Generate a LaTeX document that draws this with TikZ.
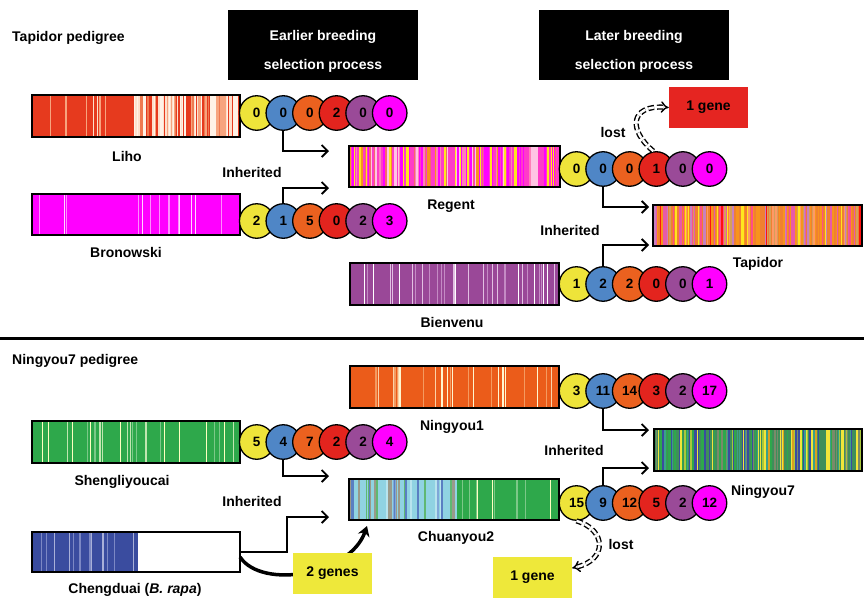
\documentclass[tikz,border=0pt]{standalone}
\usepackage{fontspec}
\setmainfont{Liberation Sans}
\usetikzlibrary{arrows.meta}
% circle colours
\definecolor{cy}{HTML}{EEE43A}
\definecolor{cb}{HTML}{4F86C6}
\definecolor{co}{HTML}{EB611F}
\definecolor{cr}{HTML}{E3241E}
\definecolor{cp}{HTML}{9A4A98}
\definecolor{cm}{HTML}{FF00FF}
\definecolor{gy}{HTML}{EEE83A}
\definecolor{gr}{HTML}{E52521}
% bar colours
\definecolor{lihoBase}{HTML}{E63A1E}
\definecolor{lhA}{HTML}{FDE0CC}\definecolor{lhB}{HTML}{F7A47E}\definecolor{lhC}{HTML}{FFF2E6}\definecolor{lhD}{HTML}{EF7A50}
\definecolor{brA}{HTML}{FF8CFF}\definecolor{brB}{HTML}{FFD6FF}
\definecolor{rgBase}{HTML}{FF3CC8}
\definecolor{rgY}{HTML}{FFE61E}\definecolor{rgO}{HTML}{F7941D}\definecolor{rgP}{HTML}{FF7FB8}\definecolor{rgM}{HTML}{FF00FF}\definecolor{rgS}{HTML}{F46A6A}\definecolor{rgL}{HTML}{FFC4E4}
\definecolor{tpBase}{HTML}{F08030}
\definecolor{tpR}{HTML}{FF1010}\definecolor{tpY}{HTML}{FFE61E}\definecolor{tpO}{HTML}{F7941D}\definecolor{tpK}{HTML}{E85AA8}\definecolor{tpV}{HTML}{C880C0}\definecolor{tpS}{HTML}{FF9966}\definecolor{tpP}{HTML}{FF4D88}\definecolor{tpT}{HTML}{D4A05A}
\definecolor{bvBase}{HTML}{9A4898}
\definecolor{bvA}{HTML}{C48AC4}\definecolor{bvB}{HTML}{E2C0E2}\definecolor{bvC}{HTML}{FFFFFF}
\definecolor{n1Base}{HTML}{EB5C1A}
\definecolor{n1A}{HTML}{F49A60}\definecolor{n1B}{HTML}{FBD2A8}\definecolor{n1C}{HTML}{FFF6D0}
\definecolor{sgBase}{HTML}{2EA84B}
\definecolor{sgA}{HTML}{7CC888}\definecolor{sgB}{HTML}{C0E6B0}\definecolor{sgC}{HTML}{FFFFC0}
\definecolor{cdBase}{HTML}{3A4C9F}
\definecolor{cdA}{HTML}{7C88C4}\definecolor{cdB}{HTML}{A9B0D8}
\definecolor{cuBase}{HTML}{90D3E2}
\definecolor{cuA}{HTML}{5A7FC2}\definecolor{cuB}{HTML}{5FB872}\definecolor{cuC}{HTML}{7FA7D8}\definecolor{cuD}{HTML}{9A9A8A}\definecolor{cuE}{HTML}{B8E4EE}
\definecolor{n7Base}{HTML}{3F8E5A}
\definecolor{n7B}{HTML}{3A4C9F}\definecolor{n7G}{HTML}{2EA84B}\definecolor{n7Y}{HTML}{F2E53A}\definecolor{n7L}{HTML}{A8C83A}\definecolor{n7T}{HTML}{3AA08A}\definecolor{n7O}{HTML}{D9A020}\definecolor{n7Gr}{HTML}{7A8A6A}
\pgfmathdeclarerandomlist{lihoL}{{lhA}{lhB}{lhC}{lhD}{lhA}{lhC}}
\pgfmathdeclarerandomlist{lihoS}{{lhB}{lhA}}
\pgfmathdeclarerandomlist{bronL}{{brA}{brB}}
\pgfmathdeclarerandomlist{regL}{{rgY}{rgO}{rgP}{rgM}{rgS}{rgL}{rgY}{rgM}}
\pgfmathdeclarerandomlist{tapL}{{tpR}{tpY}{tpO}{tpK}{tpV}{tpS}{tpP}{tpT}{tpO}{tpK}}
\pgfmathdeclarerandomlist{bienL}{{bvA}{bvB}{bvC}}
\pgfmathdeclarerandomlist{ny1L}{{n1A}{n1B}{n1C}}
\pgfmathdeclarerandomlist{shgL}{{sgA}{sgB}{sgC}}
\pgfmathdeclarerandomlist{chdL}{{cdA}{cdB}}
\pgfmathdeclarerandomlist{chuL}{{cuA}{cuB}{cuC}{cuD}{cuE}}
\pgfmathdeclarerandomlist{chgL}{{sgA}{sgC}}
\pgfmathdeclarerandomlist{ny7A}{{n7B}{n7G}{n7B}{n7G}{n7Y}{n7T}{n7Gr}{n7L}}
\pgfmathdeclarerandomlist{ny7Bl}{{n7Y}{n7L}{n7G}{n7B}{n7O}{n7T}{n7Y}{n7Gr}}
% macros
\newcommand\mkbar[6]{\node[fill=#6,inner sep=0,outer sep=0,minimum width={(#4)-(#2)},minimum height={(#5)-(#3)}] (#1) at ({((#2)+(#4))/2},{((#3)+(#5))/2}) {};}
\newcommand\stripes[7]{\pgfmathsetseed{#7}\foreach \k in {1,...,#6}{\pgfmathsetmacro\sx{(#1)+rnd*((#2)-(#1)-2.5)}\pgfmathsetmacro\sw{0.6+rnd*1.9}\pgfmathrandomitem{\sc}{#5}\fill[\sc] (\sx,#3) rectangle ({\sx+\sw},#4);}}
\newcommand\thinstripes[7]{\pgfmathsetseed{#7}\foreach \k in {1,...,#6}{\pgfmathsetmacro\sx{(#1)+rnd*((#2)-(#1)-2.5)}\pgfmathsetmacro\sw{0.5+rnd*1.0}\pgfmathrandomitem{\sc}{#5}\fill[\sc] (\sx,#3) rectangle ({\sx+\sw},#4);}}
\newcommand\outl[1]{\draw[line width=1.3pt] (#1.south west) rectangle (#1.north east);}
\newcommand\circrow[9]{\foreach \v/\c [count=\i] in {#4/cy,#5/cb,#6/co,#7/cr,#8/cp,#9/cm}{\node[dot,fill=\c] (#1\i) at ({#2+26.6*(\i-1)},#3) {\v};}}
\begin{document}
\begin{tikzpicture}[x=1pt,y=-1pt,
  lbl/.style={font=\bfseries\fontsize{14}{16}\selectfont,inner sep=0},
  dot/.style={circle,draw,line width=1.3pt,minimum size=34.5pt,inner sep=0,font=\bfseries\fontsize{13.5}{13.5}\selectfont},
  arr/.style={line width=1.8pt,-{Straight Barb[length=6pt,width=12pt]}},
  lostarr/.style={double,double distance=2.4pt,line width=1.4pt,dash pattern=on 6pt off 3pt,-{Implies}},
  hdr/.style={fill=black,minimum width=190pt,minimum height=70pt,inner sep=0},
  hdrtext/.style={text=white,align=center,font=\bfseries\fontsize{14}{29}\selectfont,inner sep=0},
  genebox/.style={minimum width=79pt,minimum height=41pt,inner sep=0,font=\bfseries\fontsize{14}{16}\selectfont}]
\fill[white] (0,0) rectangle (864,598);
\useasboundingbox (0,0) rectangle (864,598);

% headers
\node[lbl,anchor=west] (t1) at (12,38) {Tapidor pedigree};
\node[hdr] (h1) at (323,45) {};
\node[hdrtext] at ([yshift=-6pt]h1.center) {Earlier breeding\\selection process};
\node[hdr] (h2) at (634,45) {};
\node[hdrtext] at ([yshift=-6pt]h2.center) {Later breeding\\selection process};

% ---------- Tapidor pedigree bars ----------
\mkbar{liho}{32}{95}{240}{137}{lihoBase}
\thinstripes{32}{133}{95}{137}{lihoS}{9}{11}
\stripes{133}{240}{95}{137}{lihoL}{90}{12}
\outl{liho}
\mkbar{bron}{32}{194}{240}{235}{cm}
\thinstripes{32}{240}{194}{235}{bronL}{14}{21}
\outl{bron}
\mkbar{regent}{349}{146}{560}{187}{rgBase}
\stripes{349}{560}{146}{187}{regL}{150}{31}
\outl{regent}
\mkbar{tapidor}{653}{205}{862}{246}{tpBase}
\stripes{653}{862}{205}{246}{tapL}{160}{41}
\outl{tapidor}
\mkbar{bien}{350}{263}{559}{305}{bvBase}
\thinstripes{350}{559}{263}{305}{bienL}{30}{51}
\outl{bien}

\node[lbl] (lliho) at (127,156) {Liho};
\node[lbl] (lbron) at (126,252) {Bronowski};
\node[lbl] (lreg) at (451,206) {Regent};
\node[lbl] (ltap) at (758,264) {Tapidor};
\node[lbl] (lbien) at (452,322) {Bienvenu};
\node[lbl] (inh1) at (252,172) {Inherited};
\node[lbl] (inh2) at (570,230) {Inherited};
\node[lbl] (lost1) at (613,132) {lost};

\circrow{L}{256.7}{113}{0}{0}{0}{2}{0}{0}
\circrow{B}{256.7}{221}{2}{1}{5}{0}{2}{3}
\circrow{R}{576.5}{169}{0}{0}{0}{1}{0}{0}
\circrow{V}{576.5}{284}{1}{2}{2}{0}{0}{1}

\coordinate (aReg1) at (329,151);
\coordinate (aReg2) at (329,188);
\coordinate (aTap1) at (649,207);
\coordinate (aTap2) at (649,245);
\draw[arr] (L2.south) |- (aReg1);
\draw[arr] (B2.north) |- (aReg2);
\draw[arr] (R2.south) |- (aTap1);
\draw[arr] (V2.north) |- (aTap2);

\node[genebox,fill=gr] (gene1) at (708.5,107.5) {1 gene};
\draw[lostarr] ([xshift=-3pt]R4.north) .. controls (628,130) and (630,105) .. (gene1.west);

% divider
\draw[line width=3pt] (0,338) -- (864,338);

% ---------- Ningyou7 pedigree ----------
\node[lbl,anchor=west] (t2) at (12,361) {Ningyou7 pedigree};
\mkbar{ny1}{350}{366}{559}{408}{n1Base}
\thinstripes{350}{559}{366}{408}{ny1L}{26}{61}
\outl{ny1}
\mkbar{shg}{32}{421}{240}{463}{sgBase}
\thinstripes{32}{240}{421}{463}{shgL}{24}{71}
\outl{shg}
\mkbar{cheng}{32}{532}{240}{572}{white}
\fill[cdBase] (32,532) rectangle (138,572);
\thinstripes{32}{138}{532}{572}{chdL}{16}{81}
\outl{cheng}
\mkbar{chuan}{349}{479}{559}{520}{cuBase}
\stripes{349}{457}{479}{520}{chuL}{40}{91}
\fill[sgBase] (457,479) rectangle (559,520);
\thinstripes{457}{559}{479}{520}{chgL}{10}{92}
\outl{chuan}
\mkbar{ny7}{654}{429}{862}{471}{n7Base}
\stripes{654}{750}{429}{471}{ny7A}{80}{101}
\stripes{750}{862}{429}{471}{ny7Bl}{90}{102}
\outl{ny7}

\node[lbl] (lny1) at (452,427) {Ningyou1};
\node[lbl] (lny7) at (763,492) {Ningyou7};
\node[lbl] (lshg) at (122,482) {Shengliyoucai};
\node[lbl] (lchu) at (456,538) {Chuanyou2};
\node[lbl] (lcheng) at (135,590) {Chengduai (\textit{B. rapa})};
\node[lbl] (inh3) at (574,450) {Inherited};
\node[lbl] (inh4) at (252,501) {Inherited};
\node[lbl] (lost2) at (621,544) {lost};

\circrow{N}{576.5}{391}{3}{11}{14}{3}{2}{17}
\circrow{S}{256.7}{442}{5}{4}{7}{2}{2}{4}
\circrow{C}{576.5}{503}{15}{9}{12}{5}{2}{12}

\coordinate (aNy1) at (649,430);
\coordinate (aNy2) at (649,468);
\coordinate (aCh1) at (329,476);
\coordinate (aCh2) at (329,517);
\draw[arr] (N2.south) |- (aNy1);
\draw[arr] (C2.north) |- (aNy2);
\draw[arr] (S2.south) |- (aCh1);
\draw[arr] (cheng.east) -| ([xshift=-42pt]aCh2) -- (aCh2);

% thick curved arrow behind the 2 genes box
\coordinate (chtip) at (367,526);
\draw[line width=3.5pt,-{Stealth[length=10pt,width=12pt]}] ([yshift=-5pt]cheng.east) .. controls (262,590) and (350,575) .. (chtip);
\node[genebox,fill=gy] (gene3) at (332.5,573) {2 genes};

\node[genebox,fill=gy] (gene2) at (532.5,577) {1 gene};
\draw[lostarr] (C1.south) .. controls (607,530) and (607,560) .. ([yshift=9pt]gene2.east);
\end{tikzpicture}
\end{document}
